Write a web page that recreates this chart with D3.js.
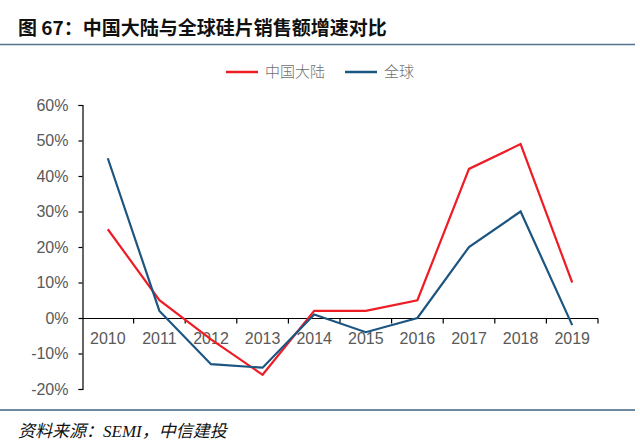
<!DOCTYPE html>
<html>
<head>
<meta charset="utf-8">
<script src="https://cdn.jsdelivr.net/npm/d3@7"></script>
<style>
  body { margin: 0; background: #fff; }
  svg { display: block; }
</style>
</head>
<body>
<svg width="640" height="448"></svg>
<script>
var years = ["2010", "2011", "2012", "2013", "2014", "2015", "2016", "2017", "2018", "2019"];
var china = [25, 5, -6, -16, 2, 2, 5, 42, 49, 10];
var world = [45, 2, -13, -14, 1, -4, 0, 20, 30, -2];
var yTicks = [-20, -10, 0, 10, 20, 30, 40, 50, 60];

var svg = d3.select("svg");

// title + rules
svg.append("text")
    .attr("x", 18).attr("y", 35)
    .style("font-family", "'Noto Sans CJK SC', sans-serif")
    .style("font-weight", "bold")
    .style("font-size", "19px")
    .attr("fill", "#111")
    .text("图 67：中国大陆与全球硅片销售额增速对比");

svg.append("line")
    .attr("x1", 0).attr("x2", 635).attr("y1", 44.5).attr("y2", 44.5)
    .attr("stroke", "#4f7391").attr("stroke-width", 1.5);

svg.append("line")
    .attr("x1", 0).attr("x2", 635).attr("y1", 410).attr("y2", 410)
    .attr("stroke", "#6d8aa0").attr("stroke-width", 2);

svg.append("text")
    .attr("x", 18).attr("y", 437)
    .style("font-family", "'Liberation Serif', 'Noto Sans CJK SC', serif")
    .style("font-style", "italic")
    .style("font-size", "17px")
    .attr("fill", "#111")
    .text("资料来源：SEMI，中信建投");

// scales
var x = d3.scaleBand().domain(years).range([82, 598]);
var y = d3.scaleLinear().domain([-20, 60]).range([389, 105]);

// y axis
var yAxis = svg.append("g")
    .attr("transform", "translate(82.5,0)")
    .call(d3.axisLeft(y).tickValues(yTicks).tickSize(4).tickPadding(10)
        .tickFormat(function(d) { return d + "%"; }));
yAxis.select(".domain").attr("stroke", "#000").attr("stroke-width", 1.2);
yAxis.selectAll(".tick line").attr("stroke", "#000").attr("stroke-width", 1.2);
yAxis.selectAll("text")
    .style("font-family", "'Liberation Sans', Arial, sans-serif")
    .style("font-size", "16px")
    .attr("fill", "#595959");

// x axis at 0%
var xAxis = svg.append("g")
    .attr("transform", "translate(0," + (y(0) + 0.5) + ")");
xAxis.append("line")
    .attr("x1", 82).attr("x2", 598)
    .attr("stroke", "#000").attr("stroke-width", 1.2);
xAxis.selectAll(".tk")
    .data(years.slice(1).concat(["end"]))
    .enter().append("line")
    .attr("x1", function(d, i) { return x(years[0]) + x.bandwidth() * (i + 1); })
    .attr("x2", function(d, i) { return x(years[0]) + x.bandwidth() * (i + 1); })
    .attr("y1", 0).attr("y2", 5)
    .attr("stroke", "#000").attr("stroke-width", 1.2);
xAxis.selectAll(".lbl")
    .data(years)
    .enter().append("text")
    .attr("x", function(d) { return x(d) + x.bandwidth() / 2; })
    .attr("y", 25)
    .attr("text-anchor", "middle")
    .style("font-family", "'Liberation Sans', Arial, sans-serif")
    .style("font-size", "16px")
    .attr("fill", "#595959")
    .text(function(d) { return d; });

// lines
var line = d3.line()
    .x(function(d, i) { return x(years[i]) + x.bandwidth() / 2; })
    .y(function(d) { return y(d); });

svg.append("path").datum(china)
    .attr("d", line).attr("fill", "none")
    .attr("stroke", "#ee1c25").attr("stroke-width", 2.2);

svg.append("path").datum(world)
    .attr("d", line).attr("fill", "none")
    .attr("stroke", "#1c5580").attr("stroke-width", 2.2);

// legend
var legend = [
    {name: "中国大陆", color: "#ee1c25", x: 226},
    {name: "全球", color: "#1c5580", x: 345}
];
var lg = svg.append("g").selectAll("g").data(legend).enter().append("g")
    .attr("transform", function(d) { return "translate(" + d.x + ",72)"; });
lg.append("line")
    .attr("x1", 0).attr("x2", 32).attr("y1", 0).attr("y2", 0)
    .attr("stroke", function(d) { return d.color; }).attr("stroke-width", 2.5);
lg.append("text")
    .attr("x", 39).attr("y", 5)
    .style("font-family", "'Noto Sans CJK SC', sans-serif")
    .style("font-weight", 300)
    .style("font-size", "15px")
    .attr("fill", "#707070")
    .text(function(d) { return d.name; });
</script>
</body>
</html>
